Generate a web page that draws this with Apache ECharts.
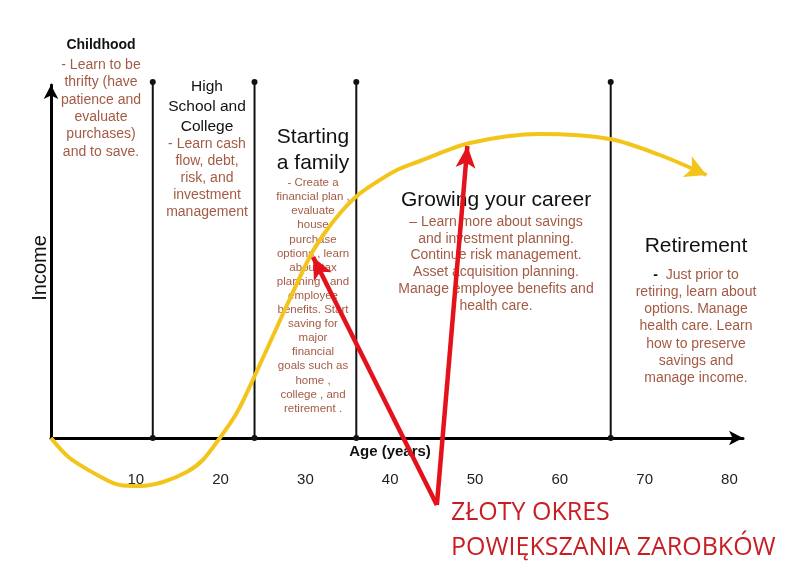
<!DOCTYPE html>
<html><head><meta charset="utf-8">
<script src="https://cdn.jsdelivr.net/npm/echarts@6/dist/echarts.min.js"></script>
<style>html,body{margin:0;padding:0;background:#fff}#c{width:800px;height:572px}</style>
</head><body><div id="c"></div>
<script>
// ---- data ----
const ageTicks = [10, 20, 30, 40, 50, 60, 70, 80];
const curveAges   = [0, 2.2, 6.1, 8.1, 10.5, 13.2, 16.0, 17.9, 19.9, 21.9, 23.8, 27.4, 30.5, 32.1, 34.1, 36.2, 38.4, 40.8, 43.2, 49.4, 57.7, 65.9, 71.8, 77.3];
const curveIncome = [0, -20, -40, -47, -48, -44, -34, -22, 0, 25, 58, 125, 181, 203, 225, 243, 256, 268, 276, 295, 304, 299, 283, 263];
const stageBoundaries = [12, 24, 36, 66];
const boundaryTop = 356;
const arrowFrom = [45.5, -67];
const arrowTargets = [[30.9, 181], [49.1, 292]];
const stageTitles = ['Childhood', 'High\nSchool and\nCollege', 'Starting\na family', 'Growing your career', 'Retirement'];
const stageNotes = [
  '- Learn to be\nthrifty (have\npatience and\nevaluate\npurchases)\nand to save.',
  '- Learn cash\nflow, debt,\nrisk, and\ninvestment\nmanagement',
  '- Create a\nfinancial plan ,\nevaluate\nhouse\npurchase\noptions , learn\nabout tax\nplanning , and\nemployee\nbenefits. Start\nsaving for\nmajor\nfinancial\ngoals such as\nhome ,\ncollege , and\nretirement .',
  '\u2013 Learn more about savings\nand investment planning.\nContinue risk management.\nAsset acquisition planning.\nManage employee benefits and\nhealth care.',
  '{d|-}  Just prior to\nretiring, learn about\noptions. Manage\nhealth care. Learn\nhow to preserve\nsavings and\nmanage income.'
];
const xAxisName = 'Age (years)';
const yAxisName = 'Income';
const calloutText = 'ZŁOTY OKRES\nPOWIĘKSZANIA ZAROBKÓW';

// ---- layout / style ----
const FONT = '"Liberation Sans", Arial, sans-serif';
const BROWN = '#a35b45';
const YELLOW = '#f3c41a';
const RED = '#e3121b';
const layout = [
  {x: 101, tY: 45,  tSize: 14,   tW: 'bold',   tLH: 18, nY: 65,  nSize: 14,   nLH: 17.4},
  {x: 207, tY: 87,  tSize: 15.5, tW: 'normal', tLH: 20, nY: 144, nSize: 14,   nLH: 17},
  {x: 313, tY: 137, tSize: 21,   tW: 'normal', tLH: 26, nY: 183, nSize: 11.5, nLH: 14.1},
  {x: 496, tY: 200, tSize: 21,   tW: 'normal', tLH: 26, nY: 222, nSize: 14,   nLH: 16.8},
  {x: 696, tY: 246, tSize: 21,   tW: 'normal', tLH: 26, nY: 275, nSize: 14,   nLH: 17.2}
];

const graphics = [];
stageTitles.forEach((t, i) => {
  const L = layout[i];
  graphics.push({type: 'text', z: 5, style: {text: t, x: L.x, y: L.tY - L.tLH / 2, textAlign: 'center', textVerticalAlign: 'top',
    font: `${L.tW} ${L.tSize}px ${FONT}`, fill: '#111', lineHeight: L.tLH}});
  graphics.push({type: 'text', z: 5, style: {text: stageNotes[i], x: L.x, y: L.nY - L.nLH / 2, textAlign: 'center', textVerticalAlign: 'top',
    font: `normal ${L.nSize}px ${FONT}`, fill: BROWN, lineHeight: L.nLH,
    rich: {d: {fill: '#111', fontWeight: 'bold', fontSize: L.nSize, lineHeight: L.nLH, fontFamily: FONT}}}});
});
graphics.push({type: 'text', z: 5, x: 40, y: 268, rotation: Math.PI / 2,
  style: {text: yAxisName, x: 0, y: 0, textAlign: 'center', textVerticalAlign: 'middle', font: `normal 20px ${FONT}`, fill: '#111'}});
graphics.push({type: 'text', z: 5, style: {text: xAxisName, x: 390, y: 452, textAlign: 'center', textVerticalAlign: 'middle',
  font: `bold 15px ${FONT}`, fill: '#111'}});
graphics.push({type: 'text', z: 50, style: {text: calloutText, x: 451, y: 513 - 17.5, textAlign: 'left', textVerticalAlign: 'top',
  font: `normal 25px "Open Sans", sans-serif`, fill: '#c81e23', lineHeight: 35}});

const curveData = curveAges.map((a, i) => [a, curveIncome[i]]);
const lastIdx = curveData.length - 1;
const curveSeriesData = curveData.map((p, i) => i === lastIdx
  ? {value: p, symbol: 'arrow', symbolSize: [17, 21], symbolRotate: -113.5, itemStyle: {color: YELLOW}}
  : {value: p});

const boundarySeries = stageBoundaries.map(b => ({
  type: 'line', clip: false, silent: true, animation: false, z: 2,
  data: [[b, 0], [b, boundaryTop]],
  lineStyle: {color: '#111', width: 2},
  symbol: 'circle', symbolSize: 6, showSymbol: true, itemStyle: {color: '#111'}
}));

const curveSeries = {
  type: 'line', clip: false, silent: true, z: 10, smooth: 0.3,
  data: curveSeriesData,
  symbol: 'none', showSymbol: true, showAllSymbol: true,
  lineStyle: {color: YELLOW, width: 4}
};

const option = {
  animation: false,
  backgroundColor: '#fff',
  grid: {left: 51, right: 57, top: 85, bottom: 134},
  xAxis: {
    type: 'value', min: 0, max: 81.6, interval: 10,
    axisLine: {lineStyle: {color: '#000', width: 3}, symbol: ['none', 'arrow'], symbolSize: [11, 14]},
    axisTick: {show: false}, splitLine: {show: false},
    axisLabel: {margin: 34, fontSize: 15, color: '#222', fontFamily: FONT,
      formatter: v => ageTicks.includes(v) ? String(v) : ''}
  },
  yAxis: {
    type: 'value', min: 0, max: 353,
    axisLine: {show: true, lineStyle: {color: '#000', width: 3}, symbol: ['none', 'arrow'], symbolSize: [11, 14]},
    axisTick: {show: false}, splitLine: {show: false}, axisLabel: {show: false}
  },
  graphic: graphics,
  series: [...boundarySeries, curveSeries]
};
const chart = echarts.init(document.getElementById('c'));
chart.setOption(option);

// red pointer arrows: direction computed through the chart's own scales
const p0 = chart.convertToPixel({gridIndex: 0}, arrowFrom);
const arrowSeries = arrowTargets.map(t => {
  const p1 = chart.convertToPixel({gridIndex: 0}, t);
  const ang = Math.atan2(-(p1[1] - p0[1]), p1[0] - p0[0]) * 180 / Math.PI;
  return {
    type: 'line', clip: false, silent: true, z: 30,
    data: [{value: arrowFrom, symbol: 'none'},
           {value: t, symbol: 'arrow', symbolSize: [15, 22], symbolRotate: ang - 90, itemStyle: {color: RED}}],
    showSymbol: true, showAllSymbol: true,
    lineStyle: {color: RED, width: 4.5, join: 'miter', cap: 'butt'}
  };
});
chart.setOption({series: [...boundarySeries, curveSeries, ...arrowSeries]});
</script></body></html>
